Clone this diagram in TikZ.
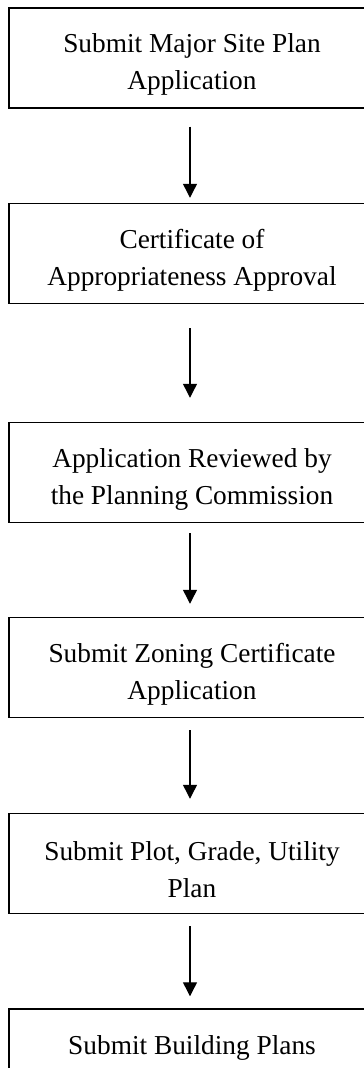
\documentclass[tikz,border=0pt]{standalone}
\usepackage{fontspec}
\setmainfont{Liberation Serif}
\usetikzlibrary{arrows.meta}
\newcommand{\stepstrut}{\rule{0pt}{24pt}}
\tikzset{every picture/.style={line width=0.75pt}}
\tikzset{
  stepbox/.style={draw, line width=1.1pt, minimum width=274.5pt, minimum height=75pt,
    inner sep=0pt, align=center, font=\fontsize{20.5}{27.75}\selectfont},
  flowarrow/.style={line width=1pt, -{Triangle[width=10.5pt,length=10.5pt]}}
}

\begin{document}
\begin{tikzpicture}[x=0.75pt,y=0.75pt,yscale=-1,xscale=1]
        \useasboundingbox (0,0) rectangle (364,1068);
        \clip (0,0) rectangle (364,1068);

        %Shape: Rectangle [id:b1]
        \node[stepbox] (b1) at (192,58) {\stepstrut Submit Major Site Plan\\Application};
        %Shape: Rectangle [id:b2]
        \node[stepbox] (b2) at (192,253.5) {\stepstrut Certificate of\\Appropriateness Approval};
        %Shape: Rectangle [id:b3]
        \node[stepbox] (b3) at (192,472.5) {\stepstrut Application Reviewed by\\the Planning Commission};
        %Shape: Rectangle [id:b4]
        \node[stepbox] (b4) at (192,667.5) {\stepstrut Submit Zoning Certificate\\Application};
        %Shape: Rectangle [id:b5]
        \node[stepbox] (b5) at (192,863.5) {\stepstrut Submit Plot, Grade, Utility\\Plan};
        %Shape: Rectangle [id:b6]
        \node[stepbox, minimum height=58.5pt] (b6) at (192,1048) {Submit Building Plans};

        %Straight Lines with Arrow
        \draw[flowarrow, shorten <=13.5pt, shorten >=3.75pt] ([xshift=-1.5pt]b1.south) -- ([xshift=-1.5pt]b2.north);
        \draw[flowarrow, shorten <=18pt, shorten >=18pt] ([xshift=-1.5pt]b2.south) -- ([xshift=-1.5pt]b3.north);
        \draw[flowarrow, shorten <=7.5pt, shorten >=9.75pt] ([xshift=-1.5pt]b3.south) -- ([xshift=-1.5pt]b4.north);
        \draw[flowarrow, shorten <=9pt, shorten >=10.5pt] ([xshift=-1.5pt]b4.south) -- ([xshift=-1.5pt]b5.north);
        \draw[flowarrow, shorten <=9pt, shorten >=9pt] ([xshift=-1.5pt]b5.south) -- ([xshift=-1.5pt]b6.north);

    \end{tikzpicture}
\end{document}
